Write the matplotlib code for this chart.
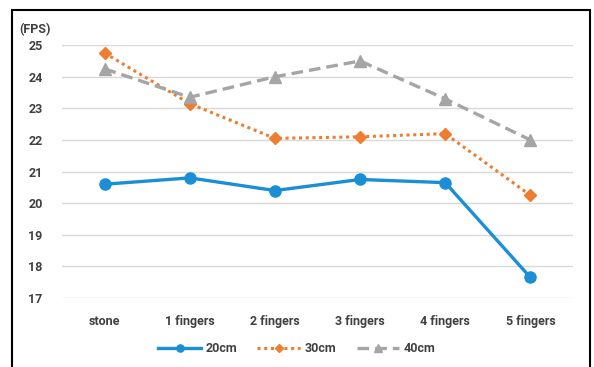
import matplotlib
matplotlib.use("Agg")
import matplotlib.pyplot as plt
from matplotlib.patches import Rectangle

categories = ["stone", "1 fingers", "2 fingers", "3 fingers", "4 fingers", "5 fingers"]
fps_20cm = [20.6, 20.8, 20.4, 20.75, 20.65, 17.65]
fps_30cm = [24.75, 23.15, 22.05, 22.1, 22.2, 20.25]
fps_40cm = [24.25, 23.35, 24.0, 24.5, 23.3, 22.0]
y_ticks = [17, 18, 19, 20, 21, 22, 23, 24, 25]

plt.rcParams['font.family'] = ['Roboto', 'DejaVu Sans']
txt_color = "#404040"

fig = plt.figure(figsize=(5.94, 3.67), dpi=100)
ax = fig.add_axes([0.1044, 0.188, 0.8602, 0.689])

x = range(len(categories))
ax.plot(x, fps_20cm, color="#1b8fd6", lw=2.4, marker="o", ms=8,
        label="20cm", clip_on=False, zorder=3)
ax.plot(x, fps_30cm, color="#ed7d31", lw=2.2, ls=(0, (1, 1.2)), marker="D", ms=6.5,
        label="30cm", clip_on=False, zorder=3)
ax.plot(x, fps_40cm, color="#a5a5a5", lw=2.4, ls=(0, (3.5, 1.8)), marker="^", ms=8,
        label="40cm", clip_on=False, zorder=3)

ax.set_xlim(-0.5, len(categories) - 0.5)
ax.set_ylim(17, 25)
ax.set_yticks(y_ticks)
ax.set_xticks(list(x))
ax.set_xticklabels(categories)
ax.yaxis.grid(True, color="#d9d9d9", lw=1.0)
ax.set_axisbelow(True)
for s in ax.spines.values():
    s.set_visible(False)
ax.tick_params(length=0, labelsize=9, labelcolor=txt_color)
for lab in ax.get_xticklabels() + ax.get_yticklabels():
    lab.set_fontweight("bold")
ax.tick_params(axis="x", pad=12)
ax.tick_params(axis="y", pad=14)

fig.text(35 / 594, 1 - 30 / 367, "(FPS)", fontsize=9, fontweight="bold",
         color=txt_color, ha="center", va="center")

leg = ax.legend(loc="upper center", bbox_to_anchor=(0.46, -0.13), ncol=3, frameon=False,
                handlelength=3.4, columnspacing=1.6, handletextpad=0.4, markerscale=0.65,
                prop={"weight": "bold", "size": 9})
for t in leg.get_texts():
    t.set_color(txt_color)

# outer frame around the chart area
fig.patches.append(Rectangle((12 / 594, -0.05), 578 / 594, 1 - 10 / 367 + 0.05,
                             transform=fig.transFigure, fill=False,
                             edgecolor="black", lw=1.5))

fig.savefig("out.png", dpi=100)
